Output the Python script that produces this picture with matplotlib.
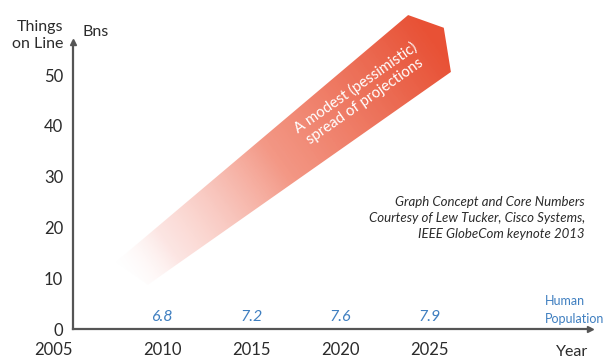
import numpy as np
import matplotlib
matplotlib.use("Agg")
import matplotlib.pyplot as plt
from matplotlib.colors import LinearSegmentedColormap
from matplotlib.patches import Polygon

plt.rcParams['font.family'] = ['Lato', 'DejaVu Sans']

# data
years = [2005, 2010, 2015, 2020, 2025]
y_ticks = [0, 10, 20, 30, 40, 50]
pop_years = [2010, 2015, 2020, 2025]
population = [6.8, 7.2, 7.6, 7.9]
# projection band outline (year, billions of things on line)
band_x = [2007.4, 2023.8, 2025.8, 2026.2, 2009.2]
band_y = [13.2, 61.8, 59.3, 50.6, 8.7]

grey = '#555555'
blue = '#3f7fc0'
txt = '#2b2b2b'
ytop = 56.5   # end of the drawn y axis

fig = plt.figure(figsize=(6.06, 3.6), dpi=100)
ax = fig.add_axes([0.1205, 0.0861, 0.853, 0.889])
ax.set_xlim(2005, 2034)
ax.set_ylim(0, 63)

for s in ['top', 'right']:
    ax.spines[s].set_visible(False)
for s in ['left', 'bottom']:
    ax.spines[s].set_color(grey)
    ax.spines[s].set_linewidth(1.6)
ax.spines['left'].set_bounds(0, ytop)
ax.plot(1, 0, '>', color=grey, ms=4, transform=ax.get_yaxis_transform(), clip_on=False)
ax.plot(2005, ytop, '^', color=grey, ms=4, clip_on=False)

ax.set_xticks(years)
ax.set_yticks(y_ticks)
ax.tick_params(length=0, labelsize=12, labelcolor=txt)
ax.tick_params(axis='x', pad=9)
ax.tick_params(axis='y', pad=7)
ax.get_xticklabels()[0].set_ha('right')

# gradient band
poly = Polygon(np.column_stack([band_x, band_y]), closed=True,
               facecolor='none', edgecolor='none')
ax.add_patch(poly)
xs = np.linspace(min(band_x), max(band_x), 300)
ys = np.linspace(min(band_y), max(band_y), 300)
X, Y = np.meshgrid(xs, ys)
sx, sy = 0.853 * 6.06 / 29, 0.889 * 3.6 / 63   # inches per data unit
x0, y0 = 2007.6, 9.5
dx, dy = (2025.5 - x0) * sx, (55 - y0) * sy
T = ((X - x0) * sx * dx + (Y - y0) * sy * dy) / (dx ** 2 + dy ** 2)
T = np.clip(T, 0, 1)
cmap = LinearSegmentedColormap.from_list('band', [
    (0.0, (1, 1, 1, 0.0)),
    (0.15, (0.98, 0.80, 0.78, 0.5)),
    (0.5, (0.95, 0.55, 0.47, 0.9)),
    (1.0, (0.91, 0.32, 0.21, 1.0))])
im = ax.imshow(T, cmap=cmap, vmin=0, vmax=1, origin='lower', aspect='auto',
               extent=[xs[0], xs[-1], ys[0], ys[-1]], interpolation='bilinear')
im.set_clip_path(poly)
ax.set_xlim(2005, 2034)
ax.set_ylim(0, 63)

ax.text(2021.1, 46.2, 'A modest (pessimistic)\nspread of projections', color='white',
        fontsize=10.8, rotation=35, rotation_mode='anchor', ha='center', va='center',
        linespacing=1.1)

# human population
for yr, p in zip(pop_years, population):
    ax.text(yr, 1.6, f'{p}', color=blue, fontsize=11.5, style='italic', ha='center')
fig.text(545 / 606, 1 - 323 / 360, 'Human\nPopulation', color=blue, fontsize=9,
         ha='left', va='baseline', linespacing=1.6)

# labels
fig.text(63 / 606, 1 - 48 / 360, 'Things\non Line', color=txt, fontsize=11.5,
         ha='right', va='baseline', linespacing=1.3)
fig.text(83 / 606, 1 - 36 / 360, 'Bns', color=txt, fontsize=11.5, ha='left', va='baseline')
fig.text(556 / 606, 1 - 356 / 360, 'Year', color=txt, fontsize=11.5, ha='left', va='baseline')

fig.text(585 / 606, 1 - 238 / 360,
         'Graph Concept and Core Numbers\nCourtesy of Lew Tucker, Cisco Systems,\nIEEE GlobeCom keynote 2013',
         color=txt, fontsize=9.5, style='italic', ha='right', va='baseline', linespacing=1.4)

fig.savefig('out.png', dpi=100)
